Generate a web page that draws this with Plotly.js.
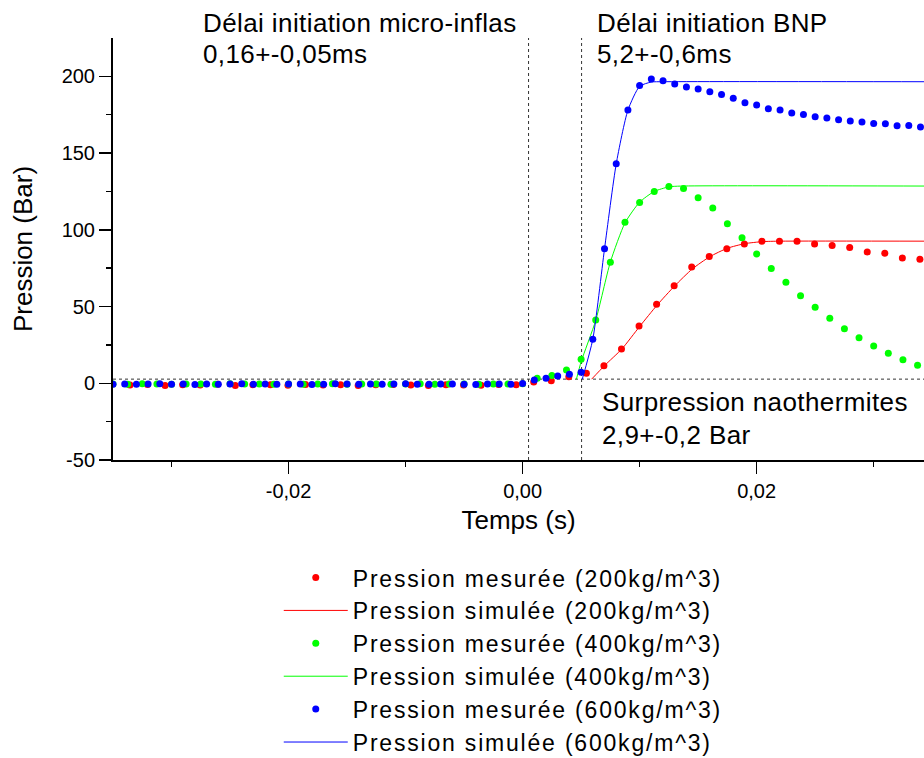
<!DOCTYPE html>
<html>
<head>
<meta charset="utf-8">
<script src="https://cdn.plot.ly/plotly-3.0.1.min.js"></script>
<style>
html,body{margin:0;padding:0;background:#fff;}
#chart{width:924px;height:758px;}
.legendtext{letter-spacing:1.8px;}
.annotation-text{letter-spacing:0.4px;}
</style>
</head>
<body>
<div id="chart"></div>
<script>
// ---- measured data (time in s, pressure in bar) ----
var tRed = [-0.03355,-0.03205,-0.03055,-0.02905,-0.02755,-0.02605,-0.02455,-0.02305,-0.02155,-0.02005,-0.01855,-0.01705,-0.01555,-0.01405,-0.01255,-0.01105,-0.00955,-0.00805,-0.00655,-0.00505,-0.00355,-0.00205,-0.00055,
  0.00095,0.00245,0.00395,0.00545,0.00695,0.00845,0.00995,0.01145,0.01295,0.01445,0.01595,0.01745,0.01895,0.02045,0.02195,0.02345,0.02495,0.02645,0.02795,0.02945,0.03095,0.03245,0.03395];
var pRed = [-1.2,-0.8,-1.5,-0.9,-1.1,-0.7,-1.4,-0.9,-1.0,-1.3,-0.8,-1.1,-0.9,-1.4,-1.0,-0.8,-1.2,-1.5,-0.9,-1.1,-1.3,-0.8,-1.0,
  0.8,1.7,4.3,6.5,11.5,22.4,37.4,51.5,63.5,75.7,82.6,87.6,90.7,92.6,92.6,92.6,90.7,89.8,88.5,85.6,84.8,81.7,80.9];

var tGreen = [-0.035,-0.03375,-0.0325,-0.03125,-0.03,-0.02875,-0.0275,-0.02625,-0.025,-0.02375,-0.0225,-0.02125,-0.02,-0.01875,-0.0175,-0.01625,-0.015,-0.01375,-0.0125,-0.01125,-0.01,-0.00875,-0.0075,-0.00625,-0.005,-0.00375,-0.0025,-0.00125,0,
  0.00125,0.0025,0.00375,0.005,0.00625,0.0075,0.00875,0.01,0.01125,0.0125,0.01375,0.015,0.01625,0.0175,0.01875,0.02,0.02125,0.0225,0.02375,0.025,0.02625,0.0275,0.02875,0.03,0.03125,0.0325,0.03375];
var pGreen = [-0.4,-0.6,-0.3,-0.5,-0.7,-0.4,-0.5,-0.6,-0.3,-0.5,-0.4,-0.7,-0.5,-0.6,-0.4,-0.3,-0.6,-0.5,-0.4,-0.7,-0.5,-0.3,-0.6,-0.4,-0.5,-0.6,-0.4,-0.5,-0.3,
  3.3,5.0,8.7,15.7,41.3,78.9,105.0,117.8,125.0,128.2,126.9,120.9,114.2,103.9,94.8,84.3,74.8,65.9,57.1,49.6,42.4,35.6,29.6,24.3,19.6,15.4,11.7];

var tBlue = [-0.035,-0.034,-0.033,-0.032,-0.031,-0.030,-0.029,-0.028,-0.027,-0.026,-0.025,-0.024,-0.023,-0.022,-0.021,-0.020,-0.019,-0.018,-0.017,-0.016,-0.015,-0.014,-0.013,-0.012,-0.011,-0.010,-0.009,-0.008,-0.007,-0.006,-0.005,-0.004,-0.003,-0.002,-0.001,0,
  0.001,0.002,0.003,0.004,0.005,0.006,0.007,0.008,0.009,0.010,0.011,0.012,0.013,0.014,0.015,0.016,0.017,0.018,0.019,0.020,0.021,0.022,0.023,0.024,0.025,0.026,0.027,0.028,0.029,0.030,0.031,0.032,0.033,0.034];
var pBlue = [-0.6,-0.4,-0.7,-0.5,-0.3,-0.6,-0.5,-0.8,-0.4,-0.6,-0.5,-0.3,-0.7,-0.5,-0.6,-0.4,-0.5,-0.8,-0.6,-0.3,-0.5,-0.7,-0.4,-0.6,-0.5,-0.3,-0.6,-0.7,-0.4,-0.5,-0.6,-0.8,-0.5,-0.4,-0.6,-0.2,
  2.2,3.3,4.8,5.8,7.2,28.7,87.6,143.1,178.1,194.1,198.3,197.2,195.0,193.1,191.8,190.0,188.1,185.7,182.8,181.3,178.9,178.1,176.1,175.2,173.7,172.9,171.8,170.9,170.3,169.3,169.1,167.8,168.0,167.0];

// ---- simulated curves ----
var tSimRed = [0.0059,0.0070,0.0085,0.0100,0.0115,0.0130,0.0145,0.0160,0.0175,0.0190,0.0205,0.0220,0.0350];
var pSimRed = [2.7,11.5,22.5,37.0,51.0,63.5,74.5,82.5,88.0,91.0,92.3,92.6,92.6];
var tSimGreen = [0.0046,0.0050,0.00625,0.0075,0.00875,0.0100,0.01125,0.0125,0.0135,0.0350];
var pSimGreen = [2.7,14.0,41.0,79.0,104.5,118.0,125.0,128.0,128.5,128.5];
var tSimBlue = [0.0051,0.0060,0.0070,0.0080,0.0090,0.0100,0.0110,0.0120,0.0350];
var pSimBlue = [2.7,28.7,87.6,143.0,178.0,193.5,196.3,196.5,196.5];

// ---- labels ----
var names = ['Pression mesurée (200kg/m^3)','Pression simulée (200kg/m^3)',
             'Pression mesurée (400kg/m^3)','Pression simulée (400kg/m^3)',
             'Pression mesurée (600kg/m^3)','Pression simulée (600kg/m^3)'];
var xTickVals = [-0.02, 0, 0.02];
var xTickText = ['-0,02', '0,00', '0,02'];
var xMinorVals = [-0.03, -0.01, 0.01, 0.03];
var yTickVals = [-50, 0, 50, 100, 150, 200];
var yTickText = ['-50', '0', '50', '100', '150', '200'];
var yMinorVals = [-25, 25, 75, 125, 175];
var delayMicro = 0.00051;   // first dashed line position (s)
var delayBNP = 0.00504;     // second dashed line position (s)
var overPressure = 2.7;     // horizontal dashed line (bar)

var FONT = 'Liberation Sans, Arial, sans-serif';
var RED = '#ff0000', GREEN = '#00ff00', BLUE = '#0000ff';

function meas(t, p, name, c) {
  return {x: t, y: p, name: name, mode: 'markers', type: 'scatter',
          marker: {color: c, size: 7}, cliponaxis: true};
}
function sim(t, p, name, c) {
  return {x: t, y: p, name: name, mode: 'lines', type: 'scatter',
          line: {color: c, width: 1, shape: 'spline', smoothing: 0.6}};
}

var data = [
  meas(tRed, pRed, names[0], RED),
  sim(tSimRed, pSimRed, names[1], RED),
  meas(tGreen, pGreen, names[2], GREEN),
  sim(tSimGreen, pSimGreen, names[3], GREEN),
  meas(tBlue, pBlue, names[4], BLUE),
  sim(tSimBlue, pSimBlue, names[5], BLUE)
];

function pxX(px){ return (px - 113.3) / 810.7; }
function pxY(py){ return (460 - py) / 421.7; }

function note(text, xpx, ypx) {
  return {text: text, xref: 'paper', yref: 'paper', x: pxX(xpx), y: pxY(ypx),
          xanchor: 'left', yanchor: 'middle', showarrow: false,
          font: {family: FONT, size: 26, color: '#000'}};
}

var dash = {color: '#333', width: 1, dash: '3px,3px'};
var layout = {
  width: 924, height: 758,
  margin: {l: 113.3, r: 0, t: 38.3, b: 298, autoexpand: false},
  paper_bgcolor: '#fff', plot_bgcolor: '#fff',
  separators: ',.',
  font: {family: FONT, color: '#000'},
  showlegend: true,
  legend: {x: pxX(279), y: pxY(556), xanchor: 'left', yanchor: 'top',
           font: {family: FONT, size: 23, color: '#000'},
           bgcolor: 'rgba(0,0,0,0)', borderwidth: 0, itemwidth: 64, tracegroupgap: 0},
  xaxis: {
    range: [-0.035, 0.0343], showgrid: false, zeroline: false,
    showline: true, linecolor: '#000', linewidth: 2,
    ticks: 'outside', ticklen: 12, tickwidth: 1.5, tickcolor: '#000',
    tickmode: 'array', tickvals: xTickVals, ticktext: xTickText,
    tickfont: {family: FONT, size: 20, color: '#000'},
    minor: {tickmode: 'array', tickvals: xMinorVals, ticks: 'outside', ticklen: 5, tickwidth: 1.5, tickcolor: '#000', showgrid: false},
    title: {text: 'Temps (s)', font: {family: FONT, size: 26, color: '#000'}, standoff: 10}
  },
  yaxis: {
    range: [-50, 225], showgrid: false, zeroline: false,
    showline: true, linecolor: '#000', linewidth: 2,
    ticks: 'outside', ticklen: 12, tickwidth: 1.5, tickcolor: '#000',
    tickmode: 'array', tickvals: yTickVals, ticktext: yTickText,
    tickfont: {family: FONT, size: 20, color: '#000'},
    minor: {tickmode: 'array', tickvals: yMinorVals, ticks: 'outside', ticklen: 5, tickwidth: 1.5, tickcolor: '#000', showgrid: false},
    title: {text: 'Pression (Bar)', font: {family: FONT, size: 26, color: '#000'}, standoff: 22}
  },
  shapes: [
    {type: 'line', layer: 'below', xref: 'x', yref: 'paper', x0: delayMicro, x1: delayMicro, y0: 0, y1: 1, line: dash},
    {type: 'line', layer: 'below', xref: 'x', yref: 'paper', x0: delayBNP, x1: delayBNP, y0: 0, y1: 1, line: dash},
    {type: 'line', layer: 'below', xref: 'paper', yref: 'y', x0: 0, x1: 1, y0: overPressure, y1: overPressure, line: dash}
  ],
  annotations: [
    note('Délai initiation micro-inflas', 201.5, 23.5),
    note('0,16+-0,05ms', 201.5, 54),
    note('Délai initiation BNP', 595.5, 23.5),
    note('5,2+-0,6ms', 595.5, 54),
    note('Surpression naothermites', 599.7, 402.5),
    note('2,9+-0,2 Bar', 599.7, 435.5)
  ]
};

Plotly.newPlot('chart', data, layout, {staticPlot: true, displayModeBar: false});
</script>
</body>
</html>
